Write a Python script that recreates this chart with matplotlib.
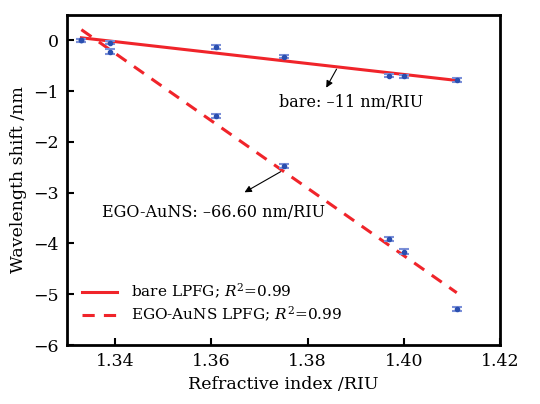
import numpy as np
import matplotlib
matplotlib.use("Agg")
import matplotlib.pyplot as plt

# Data
ri = [1.333, 1.339, 1.361, 1.375, 1.397, 1.400, 1.411]
bare_shift = [0.0, -0.05, -0.13, -0.32, -0.70, -0.71, -0.79]
ego_shift = [0.0, -0.22, -1.49, -2.48, -3.91, -4.16, -5.29]
bare_err = [0.03, 0.03, 0.04, 0.03, 0.03, 0.03, 0.04]
ego_err = [0.03, 0.05, 0.04, 0.04, 0.04, 0.05, 0.04]
fit_x = [1.333, 1.411]
bare_fit_y = [0.05, -0.79]
ego_fit_y = [0.21, -4.97]
xticks = [1.34, 1.36, 1.38, 1.40, 1.42]
xtick_labels = ["1.34", "1.36", "1.38", "1.40", "1.42"]
yticks = [0, -1, -2, -3, -4, -5, -6]

plt.rcParams['font.family'] = ['DejaVu Serif']
plt.rcParams['mathtext.fontset'] = 'dejavuserif'

fig = plt.figure(figsize=(5.4, 4.04), dpi=100)
ax = fig.add_axes([0.124, 0.146, 0.802, 0.817])

red = '#f0242a'
blue = '#2a4fb0'
ax.plot(fit_x, bare_fit_y, color=red, lw=2.2, label='bare LPFG; $R^2$=0.99')
ax.plot(fit_x, ego_fit_y, color=red, lw=2.2, ls=(0, (4, 3)), label='EGO-AuNS LPFG; $R^2$=0.99')
for ys, es in [(bare_shift, bare_err), (ego_shift, ego_err)]:
    ax.errorbar(ri, ys, yerr=es, fmt='o', ms=3, color=blue, ecolor='#7a8fd8',
                elinewidth=1.2, capsize=3.5, capthick=1.5, zorder=3)

ax.set_xlim(1.33, 1.42)
ax.set_ylim(-6, 0.5)
ax.set_xticks(xticks)
ax.set_xticklabels(xtick_labels)
ax.set_yticks(yticks)
ax.tick_params(direction='in', length=5, width=1.5, labelsize=12.5, pad=6)
for s in ax.spines.values():
    s.set_linewidth(2)

ax.set_xlabel('Refractive index /RIU', fontsize=12.5)
ax.set_ylabel('Wavelength shift /nm', fontsize=12.5)

ax.annotate('', xy=(1.3836, -0.98), xytext=(1.3863, -0.52),
            arrowprops=dict(arrowstyle='-|>', color='black', lw=0.8, mutation_scale=10))
ax.text(1.3740, -1.23, 'bare: \u201311 nm/RIU', fontsize=11.5, va='center', ha='left')
ax.annotate('', xy=(1.3664, -3.02), xytext=(1.3749, -2.56),
            arrowprops=dict(arrowstyle='-|>', color='black', lw=0.8, mutation_scale=10))
ax.text(1.3373, -3.40, 'EGO-AuNS: \u201366.60 nm/RIU', fontsize=11.5, va='center', ha='left')

ax.legend(loc='lower left', bbox_to_anchor=(0.01, 0.03), frameon=False, fontsize=11,
          handlelength=2.3, handletextpad=0.9, labelspacing=0.25, borderaxespad=0.3)

fig.savefig('out.png', dpi=100)
